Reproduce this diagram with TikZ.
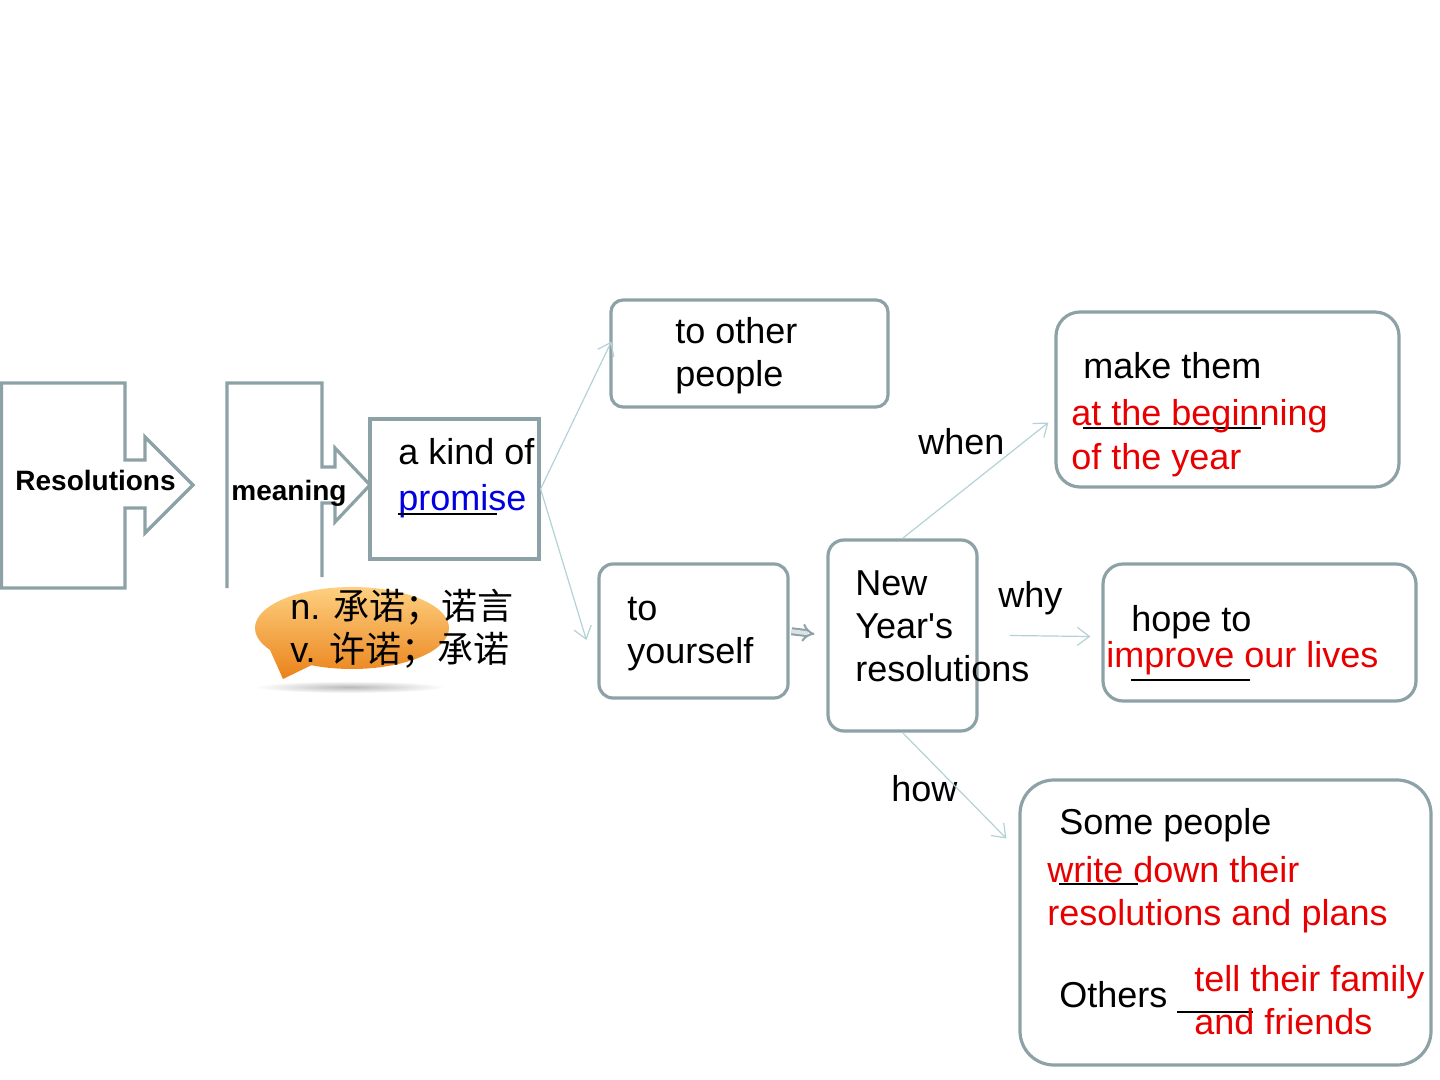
\documentclass[tikz,border=0pt]{standalone}
\usepackage{fontspec}
\setmainfont{Liberation Sans}[Ligatures=TeXOff]
\newfontfamily\cjk{Noto Sans CJK SC}
\usetikzlibrary{arrows.meta}
\definecolor{boxLine}{RGB}{140,162,166}
\definecolor{linkLine}{RGB}{180,210,214}
\definecolor{answerRed}{RGB}{232,0,0}
\definecolor{linkBlue}{RGB}{0,0,225}
\definecolor{bubbleTop}{RGB}{254,208,128}
\definecolor{bubbleBottom}{RGB}{234,130,26}
\tikzset{
  roundbox/.style={
    draw=boxLine,
    line width=1.6pt,
    rounded corners=#1,
    inner sep=0pt
  },
  roundbox/.default=6pt,
  sharpbox/.style={draw=boxLine, line width=1.6pt, inner sep=0pt},
  blockline/.style={draw=boxLine, line width=1.6pt, line join=miter},
  txt/.style={
    anchor=base west,
    inner sep=0pt,
    align=left,
    font=\fontsize{18}{21.5}\selectfont
  },
  answer/.style={txt, text=answerRed},
  headword/.style={anchor=base west, inner sep=0pt, font=\fontsize{14}{16}\selectfont\bfseries},
  link/.style={-{Straight Barb[length=6pt,width=9pt]}, draw=linkLine, line width=0.6pt},
  blank/.style={draw=black, line width=0.8pt},
  pointer/.style={-{Implies}, draw=boxLine, line width=1pt, double=boxLine!30, double distance=2pt}
}

\begin{document}
\begin{tikzpicture}[x=0.5pt, y=-0.5pt]
  \useasboundingbox (0,0) rectangle (1440,1080);

  \draw[blockline] (1.5,383) -- (125,383) -- (125,460) -- (145,460) -- (145,437) -- (193,485)
    -- (145,533) -- (145,508) -- (125,508) -- (125,588) -- (1.5,588) -- cycle;
  \node[headword] (resolutions) at (15,490) {Resolutions};

  \draw[blockline] (227,588) -- (227,383) -- (322,383) -- (322,467) -- (335,467) -- (335,448)
    -- (370,485) -- (335,522) -- (335,503) -- (322,503) -- (322,577);
  \node[headword] (meaning) at (231,500) {meaning};

  \node[sharpbox, minimum width=84.5pt, minimum height=70pt] (promise) at (454.5,489) {};
  \node[txt] (kindof) at (398,465) {a kind of};
  \node[txt, text=linkBlue] (promiseword) at (398,510) {promise};
  \draw[blank] (398,514) -- (497,514);

  % bubble, last line of a text node sits on the given point
  \shade[inner color=gray!55, outer color=white] (350,687) ellipse [x radius=95, y radius=6];
  \shade[top color=bubbleTop, bottom color=bubbleBottom] (352,628) ellipse [x radius=97, y radius=41]
    (318,662) -- (283,679) -- (270,650) -- cycle;
  \node[txt] (gloss) at (290,662) {n. {\cjk 承诺；诺言}\\v. {\cjk 许诺；承诺}};

  \node[roundbox=6pt, minimum width=138.5pt, minimum height=53.5pt] (other) at (749.5,353.5) {};
  \node[txt] (othertext) at (675,387) {to other\\people};

  \node[roundbox=7pt, minimum width=94.5pt, minimum height=67pt] (self) at (693.5,631) {};
  \node[txt] (selftext) at (627,663) {to\\yourself};

  \node[roundbox=8pt, minimum width=74.5pt, minimum height=95.5pt] (nyr) at (902.5,635.5) {};
  \node[txt] (nyrtext) at (855,681) {New\\Year's\\resolutions};

  \node[roundbox=12pt, minimum width=171.5pt, minimum height=87.5pt] (begin) at (1227.5,399.5) {};
  \node[txt] (maketext) at (1083,379) {make them};
  \draw[blank] (1083,428) -- (1261,428);
  \node[answer] (beginans) at (1071,469) {at the beginning\\of the year};

  \node[roundbox=10pt, minimum width=156.5pt, minimum height=68.5pt] (hope) at (1259.5,632.5) {};
  \node[txt] (hopetext) at (1131,631) {hope to};
  \draw[blank] (1131,680) -- (1250,680);
  \node[answer] (hopeans) at (1106,667) {improve our lives};

  \node[roundbox=17pt, minimum width=205.5pt, minimum height=142.5pt] (plans) at (1225.5,922.5) {};
  \node[txt] (sometext) at (1059,834) {Some people};
  \draw[blank] (1059,884) -- (1138,884);
  \node[answer] (someans) at (1047,925) {write down their\\resolutions and plans};
  \node[txt] (otherstext) at (1059,1007) {Others};
  \draw[blank] (1177,1012) -- (1253,1012);
  \node[answer] (othersans) at (1194,1034) {tell their family\\and friends};

  \node[txt] (when) at (918,455) {when};
  \node[txt] (why) at (998,607) {why};
  \node[txt] (how) at (891,801) {how};

  \draw[link] (promise.east) -- ([xshift=1pt, yshift=6pt]other.west);
  \draw[link] (promise.east) -- ([xshift=-5.5pt, yshift=-4.5pt]self.west);
  \draw[pointer, shorten <=1pt, shorten >=6pt] (self.east) -- (nyr.west);
  \draw[link] (nyr.north) -- ([xshift=-3pt, yshift=-11.5pt]begin.west);
  \draw[link] ([xshift=15.5pt]nyr.east) -- ([xshift=-5.5pt, yshift=-2pt]hope.west);
  \draw[link] (nyr.south) -- ([xshift=-6pt, yshift=42pt]plans.west);
\end{tikzpicture}
\end{document}
